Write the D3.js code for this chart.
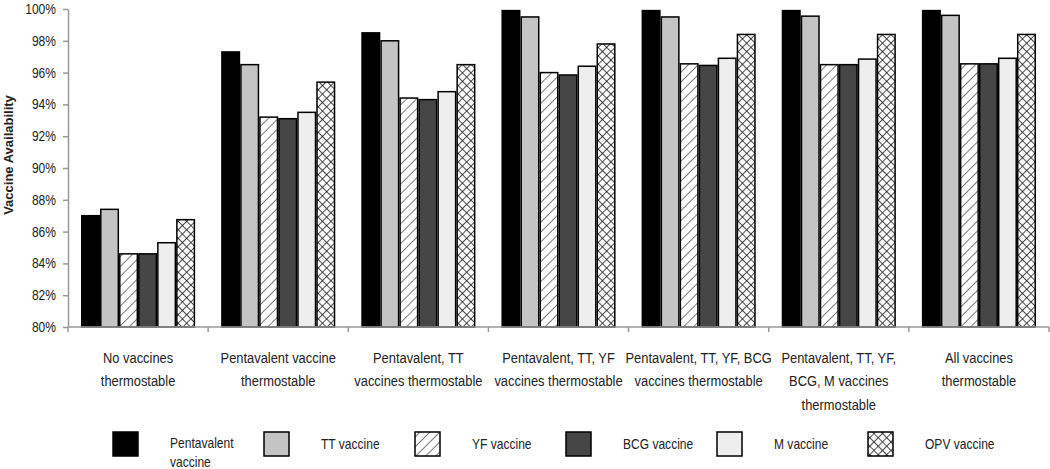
<!DOCTYPE html>
<html><head><meta charset="utf-8">
<script src="https://cdn.jsdelivr.net/npm/d3@7"></script>
<style>
body{margin:0;background:#fff;}
text{font-family:"Liberation Sans",Arial,sans-serif;fill:#222;}
</style></head>
<body><svg id="c" width="1050" height="469"></svg>
<script>
const categories = [
  ["No vaccines","thermostable"],
  ["Pentavalent vaccine","thermostable"],
  ["Pentavalent, TT","vaccines thermostable"],
  ["Pentavalent, TT, YF","vaccines thermostable"],
  ["Pentavalent, TT, YF, BCG","vaccines thermostable"],
  ["Pentavalent, TT, YF,","BCG, M vaccines","thermostable"],
  ["All vaccines","thermostable"]
];
const seriesNames = ["Pentavalent vaccine","TT vaccine","YF vaccine","BCG vaccine","M vaccine","OPV vaccine"];
const legendLabels = [["Pentavalent","vaccine"],["TT vaccine"],["YF vaccine"],["BCG vaccine"],["M vaccine"],["OPV vaccine"]];
const pentavalent = [87.0, 97.3, 98.5, 99.9, 99.9, 99.9, 99.9];
const tt          = [87.4, 96.5, 98.0, 99.5, 99.5, 99.55, 99.6];
const yf          = [84.6, 93.2, 94.4, 96.0, 96.55, 96.5, 96.55];
const bcg         = [84.6, 93.1, 94.3, 95.85, 96.45, 96.5, 96.55];
const mv          = [85.3, 93.5, 94.8, 96.4, 96.9, 96.85, 96.9];
const opv         = [86.75, 95.4, 96.5, 97.8, 98.4, 98.4, 98.4];
const yTicks = [80,82,84,86,88,90,92,94,96,98,100];

const series = [pentavalent, tt, yf, bcg, mv, opv];
const fills = ["#000000","#c4c4c4","url(#hatch)","#464646","#eeeeee","url(#cross)"];
const SX = 0.86; // horizontal condensation to mimic a narrow font

const svg = d3.select("#c");
const defs = svg.append("defs");
const h = defs.append("pattern").attr("id","hatch").attr("patternUnits","userSpaceOnUse")
  .attr("width",7).attr("height",7).attr("patternTransform","rotate(45)");
h.append("rect").attr("width",7).attr("height",7).attr("fill","#fff");
h.append("line").attr("x1",0).attr("y1",0).attr("x2",0).attr("y2",7).attr("stroke","#333").attr("stroke-width",1.3);
const c = defs.append("pattern").attr("id","cross").attr("patternUnits","userSpaceOnUse")
  .attr("width",6).attr("height",6).attr("patternTransform","rotate(45)");
c.append("rect").attr("width",6).attr("height",6).attr("fill","#fff");
c.append("line").attr("x1",0).attr("y1",0).attr("x2",0).attr("y2",6).attr("stroke","#111").attr("stroke-width",1.5);
c.append("line").attr("x1",0).attr("y1",0).attr("x2",6).attr("y2",0).attr("stroke","#111").attr("stroke-width",1.5);

const x0 = d3.scaleBand().domain(d3.range(categories.length)).range([68,1049]).paddingInner(26/140).paddingOuter(13/140);
const x1 = d3.scaleBand().domain(d3.range(series.length)).range([0,x0.bandwidth()]).padding(0);
const y = d3.scaleLinear().domain([80,100]).range([327,9]);

// bars
const g = svg.append("g");
categories.forEach((cat,i)=>{
  series.forEach((s,j)=>{
    g.append("rect")
      .attr("x", x0(i)+x1(j)+0.75)
      .attr("y", y(s[i]))
      .attr("width", x1.bandwidth()-1.5)
      .attr("height", y(80)-y(s[i]))
      .attr("fill", fills[j])
      .attr("stroke","#000").attr("stroke-width",1.5);
  });
});

// y axis
const yAxis = d3.axisLeft(y).tickValues(yTicks).tickFormat(d=>d+"%").tickSize(5).tickSizeOuter(0);
const ya = svg.append("g").attr("transform","translate(68,0)").call(yAxis);
ya.select(".domain").attr("stroke","#999").attr("stroke-width",1.5);
ya.selectAll(".tick line").attr("stroke","#999").attr("stroke-width",1.5);
ya.selectAll(".tick text").attr("x",0).attr("font-size",14).attr("font-family","Liberation Sans, Arial, sans-serif")
  .attr("fill","#333").attr("transform",`translate(-12,0) scale(${SX},1)`);

// x axis
const xa = svg.append("g");
xa.append("line").attr("x1",68).attr("x2",1049).attr("y1",y(80)).attr("y2",y(80)).attr("stroke","#999").attr("stroke-width",1.5);
d3.range(categories.length+1).forEach(i=>{
  const xx = 68 + i*x0.step();
  xa.append("line").attr("x1",xx).attr("x2",xx).attr("y1",y(80)).attr("y2",y(80)+5).attr("stroke","#999").attr("stroke-width",1.5);
});
categories.forEach((cat,i)=>{
  const t = svg.append("text").attr("text-anchor","middle").attr("font-size",15)
    .attr("transform",`translate(${x0(i)+x0.bandwidth()/2},0) scale(${SX},1)`);
  cat.forEach((line,k)=>{
    t.append("tspan").attr("x", 0).attr("y", 363 + k*23.5).text(line);
  });
});

// y title
svg.append("text").attr("transform","translate(13,155) rotate(-90)").attr("text-anchor","middle")
  .attr("font-weight","bold").attr("font-size",13).attr("fill","#111")
  .text("Vaccine Availability");

// legend
const lg = svg.append("g");
legendLabels.forEach((lab,j)=>{
  const lx = 113 + j*151;
  lg.append("rect").attr("x",lx).attr("y",432).attr("width",25).attr("height",24)
    .attr("fill",fills[j]).attr("stroke","#000").attr("stroke-width",1.5);
  const t = lg.append("text").attr("font-size",14).attr("transform",`translate(${lx+57},0) scale(${SX},1)`);
  lab.forEach((line,k)=>{
    t.append("tspan").attr("x",0).attr("y",lab.length>1 ? 448 + k*19 : 449).text(line);
  });
});
</script></body></html>
